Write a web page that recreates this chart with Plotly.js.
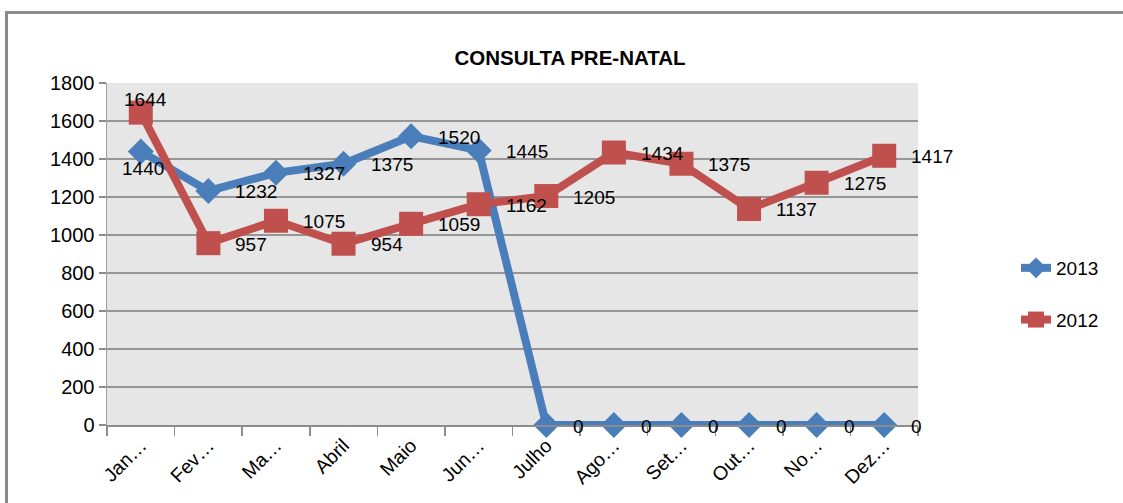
<!DOCTYPE html>
<html>
<head>
<meta charset="utf-8">
<script src="https://cdn.plot.ly/plotly-3.0.1.min.js"></script>
<style>
  html, body { margin: 0; padding: 0; background: #ffffff; }
  #chart { position: absolute; left: 0; top: 0; width: 1123px; height: 503px; }
  #frame { position: absolute; left: 5px; top: 11px; width: 2000px; height: 2000px;
           border-left: 3px solid #8a8a8a; border-top: 3px solid #8a8a8a; pointer-events: none; }
</style>
</head>
<body>
<div id="chart"></div>
<div id="frame"></div>
<script>
const months = ["Jan…", "Fev…", "Ma…", "Abril", "Maio", "Jun…", "Julho", "Ago…", "Set…", "Out…", "No…", "Dez…"];
const values2013 = [1440, 1232, 1327, 1375, 1520, 1445, 0, 0, 0, 0, 0, 0];
const values2012 = [1644, 957, 1075, 954, 1059, 1162, 1205, 1434, 1375, 1137, 1275, 1417];
const yTicks = [0, 200, 400, 600, 800, 1000, 1200, 1400, 1600, 1800];

const FONT = "Liberation Sans, Arial, sans-serif";
const BLUE = "#4a7ebb";
const RED = "#c0504d";

const traces = [
  {
    x: months, y: values2013, name: "2013", type: "scatter", mode: "lines+markers",
    legendgroup: "a",
    line: { color: BLUE, width: 8 },
    marker: { symbol: "diamond", size: 20, color: BLUE },
    cliponaxis: false
  },
  {
    x: months, y: values2012, name: "2012", type: "scatter", mode: "lines+markers",
    legendgroup: "b",
    line: { color: RED, width: 8 },
    marker: { symbol: "square", size: 24, color: RED },
    cliponaxis: false
  }
];

function labelsFor(vals, firstShift) {
  return vals.map((v, i) => {
    const a = { x: months[i], y: v, text: String(v), showarrow: false,
      font: { family: FONT, size: 19, color: "#000" } };
    if (i === 0) {
      a.xanchor = "center"; a.yanchor = "middle";
      a.xshift = firstShift[0]; a.yshift = firstShift[1];
    } else {
      a.xanchor = "left"; a.yanchor = "middle";
      a.xshift = 25; a.yshift = -1;
    }
    return a;
  });
}

const annotations = labelsFor(values2013, [2, -17]).concat(labelsFor(values2012, [5, 13]));

const layout = {
  width: 1123, height: 503,
  margin: { l: 107, r: 205, t: 83, b: 78 },
  paper_bgcolor: "#ffffff",
  plot_bgcolor: "#e6e6e6",
  showlegend: true,
  title: {
    text: "<b>CONSULTA PRE-NATAL</b>",
    font: { family: FONT, size: 20.5, color: "#000" },
    x: (570 - 107) / 811, xref: "paper", xanchor: "center",
    y: 1 - 58 / 503, yref: "container", yanchor: "middle"
  },
  xaxis: {
    type: "category",
    tickangle: -45,
    tickfont: { family: FONT, size: 19.5, color: "#000" },
    ticks: "outside", ticklen: 9, tickcolor: "#8c8c8c", tickwidth: 1.5,
    tickson: "boundaries",
    showline: true, linecolor: "#8c8c8c", linewidth: 1.5,
    showgrid: false, zeroline: false,
    range: [-0.5, 11.5]
  },
  yaxis: {
    range: [0, 1800],
    tickvals: yTicks,
    ticktext: yTicks.map(String),
    tickfont: { family: FONT, size: 20, color: "#000" },
    ticks: "outside", ticklen: 7, tickcolor: "#8c8c8c", tickwidth: 1.5,
    showline: true, linecolor: "#a0a0a0", linewidth: 1.5,
    showgrid: true, gridcolor: "#969696", gridwidth: 1.5,
    zeroline: false
  },
  legend: {
    x: (1016 - 107) / 811, xanchor: "left",
    y: (425 - 294) / 342, yanchor: "middle",
    font: { family: FONT, size: 19, color: "#000" },
    bgcolor: "rgba(0,0,0,0)",
    tracegroupgap: 24,
    itemwidth: 30
  },
  annotations: annotations
};

Plotly.newPlot("chart", traces, layout, { displayModeBar: false, staticPlot: true });
</script>
</body>
</html>
